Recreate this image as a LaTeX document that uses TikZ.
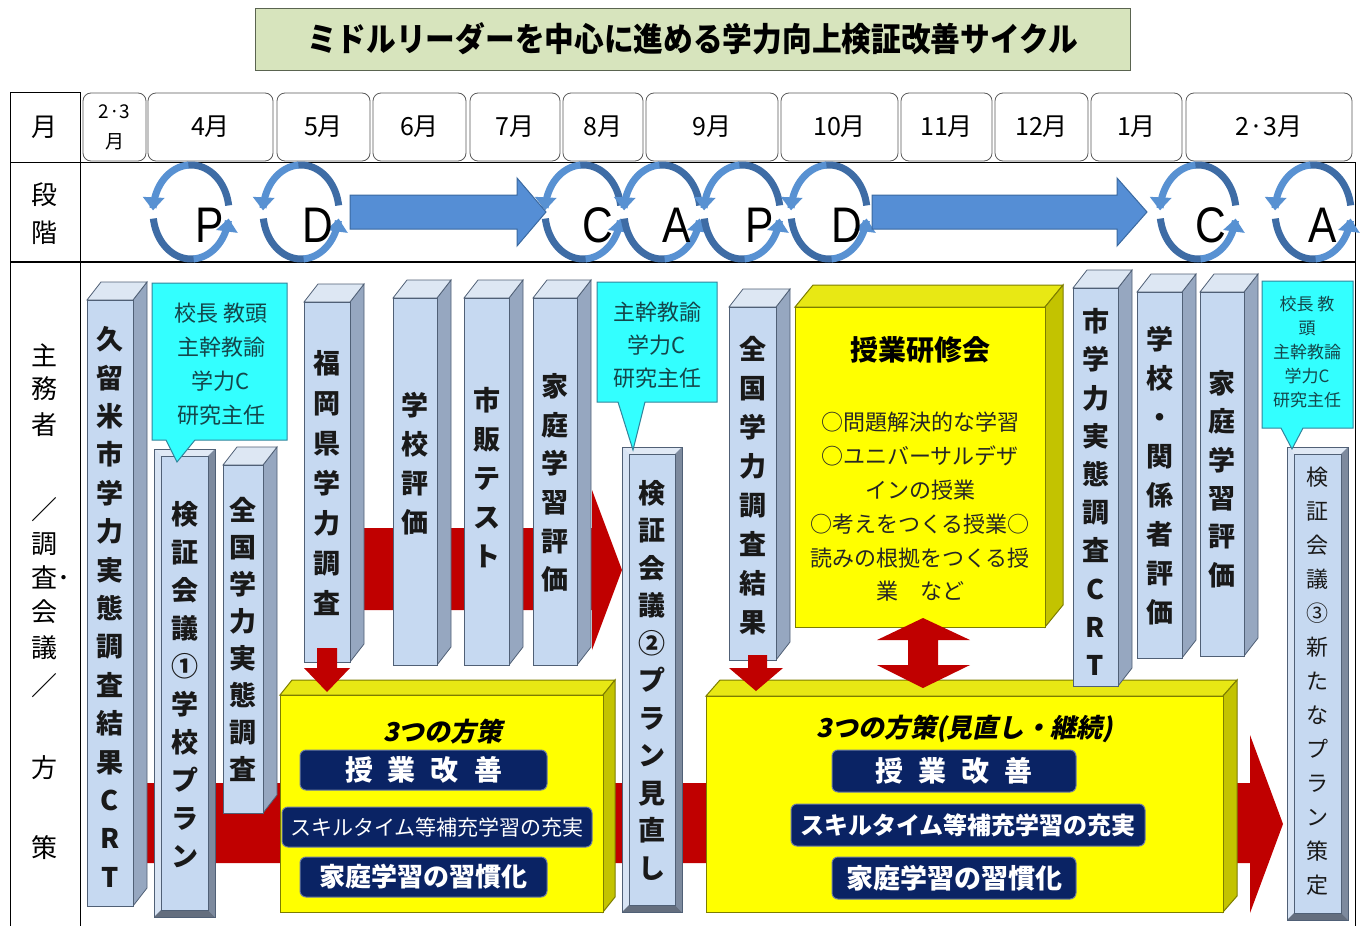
\documentclass[tikz,border=0pt]{standalone}
\usepackage{fontspec}
\setmainfont{Noto Sans CJK JP}
\newfontfamily\latinfont{Liberation Sans}
\newfontfamily\jpslant{Noto Sans CJK JP}[FakeSlant=0.2,BoldFeatures={FakeSlant=0.2}]
\usetikzlibrary{arrows.meta}
\newcommand{\fs}[2]{\fontsize{#1}{#2}\selectfont}
\definecolor{titlegreen}{RGB}{215,228,189}
\definecolor{titleline}{RGB}{90,100,80}
\definecolor{barfront}{RGB}{198,217,241}
\definecolor{bartop}{RGB}{221,231,243}
\definecolor{barside}{RGB}{150,167,192}
\definecolor{barline}{RGB}{80,96,118}
\definecolor{bevdarkc}{RGB}{125,138,158}
\definecolor{bevlightc}{RGB}{224,233,245}
\definecolor{cyanfill}{RGB}{51,255,255}
\definecolor{cyanline}{RGB}{49,133,156}
\definecolor{cyantext}{RGB}{20,70,75}
\definecolor{yfront}{RGB}{255,255,0}
\definecolor{ytop}{RGB}{232,232,20}
\definecolor{yside}{RGB}{195,195,0}
\definecolor{yline}{RGB}{125,125,0}
\definecolor{navy}{RGB}{10,35,100}
\definecolor{redc}{RGB}{192,0,0}
\definecolor{cycd}{RGB}{62,108,165}
\definecolor{cycl}{RGB}{88,145,210}
\definecolor{bigblue}{RGB}{85,142,213}
\definecolor{bigblueline}{RGB}{58,105,160}
\definecolor{monthline}{RGB}{90,90,90}

\newcommand{\pillar}[7]{%
  \filldraw[barsidef] (#4,#3) -- (#4+14,#3-18) -- (#4+14,#5-18) -- (#4,#5) -- cycle;
  \filldraw[bartopf] (#2,#3) -- (#2+14,#3-18) -- (#4+14,#3-18) -- (#4,#3) -- cycle;
  \filldraw[barfrontf] (#2,#3) rectangle (#4,#5);
  \node[vtxt,#1] at ({(#2+#4)/2},#6) {#7};
}
\newcommand{\bevelbar}[7]{%
  \fill[barfront] (#2,#3) rectangle (#4,#5);
  \fill[bevlightc] (#2,#3) -- (#4,#3) -- (#4-7,#3+7) -- (#2+7,#3+7) -- cycle;
  \fill[bevlightc!70!barfront] (#2,#3) -- (#2+7,#3+7) -- (#2+7,#5-7) -- (#2,#5) -- cycle;
  \fill[bevdarkc] (#4,#3) -- (#4,#5) -- (#4-7,#5-7) -- (#4-7,#3+7) -- cycle;
  \fill[bevdarkc!80!black] (#2,#5) -- (#4,#5) -- (#4-7,#5-7) -- (#2+7,#5-7) -- cycle;
  \draw[barline,line width=0.8pt] (#2,#3) rectangle (#4,#5);
  \draw[barline,line width=0.6pt] (#2+7,#3+7) rectangle (#4-7,#5-7);
  \node[vtxt,#1] at ({(#2+#4)/2},#6) {#7};
}
\newcommand{\pdcacyc}[4]{%
  \begin{scope}[shift={(#2,212)}]
    \draw[cycdk] plot[domain=8:96,samples=30] ({38*cos(\x)},{-47*sin(\x)});
    \draw[cyclt,-{Triangle[width=21pt,length=13pt]}] plot[domain=94:178,samples=30] ({38*cos(\x)},{-47*sin(\x)});
    \draw[cycdk] plot[domain=188:276,samples=30] ({38*cos(\x)},{-47*sin(\x)});
    \draw[cyclt,-{Triangle[width=21pt,length=13pt]}] plot[domain=274:352,samples=30] ({38*cos(\x)},{-47*sin(\x)});
  \end{scope}
  \node[pdcaletter] (#1) at (#3,225) {\scalebox{0.85}[1]{#4}};
}

\begin{document}
\begin{tikzpicture}[x=1pt,y=-1pt,
  tline/.style={draw=black,line width=1pt},
  monthbox/.style={draw=monthline,line width=0.8pt,rounded corners=8pt,fill=white,minimum height=68pt,inner sep=0pt,font=\fs{25}{28}},
  sidelabel/.style={inner sep=0pt,font=\fs{26}{30}},
  pdcaletter/.style={inner sep=0pt,font=\latinfont\fs{50}{50}},
  cycdk/.style={draw=cycd,line width=7pt},
  cyclt/.style={draw=cycl,line width=7pt},
  bigarrow/.style={fill=bigblue,draw=bigblueline,line width=1pt},
  redshape/.style={fill=redc},
  barfrontf/.style={fill=barfront,draw=barline,line width=0.8pt},
  bartopf/.style={fill=bartop,draw=barline,line width=0.8pt},
  barsidef/.style={fill=barside,draw=barline,line width=0.8pt},
  vtxt/.style={align=center,inner sep=0pt,text=black!90},
  yfrontf/.style={fill=yfront,draw=yline,line width=1pt},
  ytopf/.style={fill=ytop,draw=yline,line width=1pt},
  ysidef/.style={fill=yside,draw=yline,line width=1pt},
  navybox/.style={fill=navy,draw=navy!60!white,line width=1pt,rounded corners=6pt,text=white,inner sep=0pt},
  callout/.style={fill=cyanfill,draw=cyanline,line width=1pt},
  callouttext/.style={align=center,inner sep=0pt,text=cyantext}
]
\useasboundingbox (0,0) rectangle (1364,926);
\fill[white] (0,0) rectangle (1364,926);

% title
\node[draw=titleline,line width=1pt,fill=titlegreen,minimum width=875pt,minimum height=62pt,inner sep=0pt,font=\bfseries\fs{33}{36}] (title) at (692.5,39) {\scalebox{0.9}[1]{ミドルリーダーを中心に進める学力向上検証改善サイクル}};

% table lines
\draw[tline] (10,92) -- (80,92);
\draw[tline] (10,92) -- (10,926);
\draw[tline] (80,92) -- (80,926);
\draw[tline] (10,162) -- (1355,162);
\draw[tline] (1355,162) -- (1355,926);
\draw[tline,line width=2pt] (10,262) -- (1355,262);

% left labels
\node[sidelabel] (lmonth) at (44,127) {月};
\node[sidelabel] (lphase1) at (44,195) {段};
\node[sidelabel] (lphase2) at (44,233) {階};
\node[sidelabel] (la1) at (44,355) {主};
\node[sidelabel] (la2) at (44,389) {務};
\node[sidelabel] (la3) at (44,425) {者};
\node[sidelabel] (la4) at (44,510) {／};
\node[sidelabel] (la5) at (44,544) {調};
\node[sidelabel,anchor=west] (la6) at (31,577) {査･};
\node[sidelabel] (la7) at (44,612) {会};
\node[sidelabel] (la8) at (44,648) {議};
\node[sidelabel] (la9) at (44,686) {／};
\node[sidelabel] (la10) at (44,768) {方};
\node[sidelabel] (la11) at (44,848) {策};

% months
\node[monthbox,minimum width=63pt,align=center,font=\fs{19}{30}] (m0) at (114.5,127) {2·3\\月};
\node[monthbox,minimum width=125pt] (m1) at (210.5,127) {4月};
\node[monthbox,minimum width=93pt] (m2) at (323.5,127) {5月};
\node[monthbox,minimum width=93pt] (m3) at (419.5,127) {6月};
\node[monthbox,minimum width=90pt] (m4) at (515,127) {7月};
\node[monthbox,minimum width=80pt] (m5) at (603,127) {8月};
\node[monthbox,minimum width=132pt] (m6) at (712,127) {9月};
\node[monthbox,minimum width=117pt] (m7) at (839.5,127) {10月};
\node[monthbox,minimum width=91pt] (m8) at (946.5,127) {11月};
\node[monthbox,minimum width=93pt] (m9) at (1041.5,127) {12月};
\node[monthbox,minimum width=91pt] (m10) at (1136.5,127) {1月};
\node[monthbox,minimum width=166pt] (m11) at (1269,127) {2·3月};

% phase cycles
\pdcacyc{p1}{191}{210}{P}
\pdcacyc{d1}{301}{318}{D}
\pdcacyc{c1}{583}{598}{C}
\pdcacyc{a1}{662}{677}{A}
\pdcacyc{p2}{742}{760}{P}
\pdcacyc{d2}{829}{847}{D}
\pdcacyc{c2}{1198}{1211}{C}
\pdcacyc{a2}{1313}{1323}{A}
\draw[bigarrow] (350,195) -- (517,195) -- (517,178) -- (546,212) -- (517,246) -- (517,229) -- (350,229) -- cycle;
\draw[bigarrow] (872,195) -- (1117,195) -- (1117,178) -- (1147,212) -- (1117,246) -- (1117,229) -- (872,229) -- cycle;

% red bands
\fill[redshape] (350,528) -- (592,528) -- (592,490) -- (622,570) -- (592,650) -- (592,610) -- (350,610) -- cycle;
\fill[redshape] (140,783) -- (1250,783) -- (1250,735) -- (1283,824) -- (1250,913) -- (1250,863) -- (140,863) -- cycle;

% yellow box 1
\filldraw[ytopf] (280,695) -- (292,680) -- (615,680) -- (603,695) -- cycle;
\filldraw[ysidef] (603,695) -- (615,680) -- (615,897) -- (603,912) -- cycle;
\filldraw[yfrontf] (280,695) rectangle (603,912);
\node[inner sep=0pt,font=\jpslant\bfseries\fs{26}{30}] (h1) at (443,732) {3つの方策};
\node[navybox,minimum width=247pt,minimum height=40pt,font=\bfseries\fs{28}{30}] (n11) at (423.5,770) {授\hspace{15pt}業\hspace{15pt}改\hspace{15pt}善};
\node[navybox,minimum width=310pt,minimum height=40pt,font=\fs{21}{24}] (n12) at (437,827) {スキルタイム等補充学習の充実};
\node[navybox,minimum width=247pt,minimum height=40pt,font=\bfseries\fs{26}{30}] (n13) at (423.5,877) {家庭学習の習慣化};

% yellow box 2
\filldraw[ytopf] (706,696) -- (720,680) -- (1237,680) -- (1223,696) -- cycle;
\filldraw[ysidef] (1223,696) -- (1237,680) -- (1237,896) -- (1223,912) -- cycle;
\filldraw[yfrontf] (706,696) rectangle (1223,912);
\node[inner sep=0pt,font=\jpslant\bfseries\fs{26}{30}] (h2) at (965,729) {3つの方策(見直し・継続)};
\node[navybox,minimum width=244pt,minimum height=42pt,font=\bfseries\fs{28}{30}] (n21) at (954,771) {授\hspace{15pt}業\hspace{15pt}改\hspace{15pt}善};
\node[navybox,minimum width=354pt,minimum height=42pt,font=\bfseries\fs{24}{28}] (n22) at (968,825) {スキルタイム等補充学習の充実};
\node[navybox,minimum width=244pt,minimum height=42pt,font=\bfseries\fs{27}{30}] (n23) at (954,878) {家庭学習の習慣化};

% yellow box 3
\filldraw[ytopf] (795,307) -- (813,285) -- (1063,285) -- (1045,307) -- cycle;
\filldraw[ysidef] (1045,307) -- (1063,285) -- (1063,605) -- (1045,627) -- cycle;
\filldraw[yfrontf] (795,307) rectangle (1045,627);
\node[inner sep=0pt,font=\bfseries\fs{28}{30}] (h3) at (920,350) {授業研修会};
\node[inner sep=0pt,align=center,text=black!85,font=\fs{22}{33.8}] (k3) at (920,507) {○問題解決的な学習\\○ユニバーサルデザ\\インの授業\\○考えをつくる授業○\\読みの根拠をつくる授\\業　など};

% pillars
\pillar{name=kurume,font=\bfseries\fs{27}{38.4}}{87}{300}{133}{906}{607}{久\\留\\米\\市\\学\\力\\実\\態\\調\\査\\結\\果\\C\\R\\T}
\bevelbar{name=kensho1,font=\bfseries\fs{27}{38}}{154}{449}{215}{917}{685}{検\\証\\会\\議\\①\\学\\校\\プ\\ラ\\ン}
\pillar{name=zenkoku1,font=\bfseries\fs{27}{37}}{223}{465}{263}{813}{639}{全\\国\\学\\力\\実\\態\\調\\査}
\pillar{name=fukuoka,font=\bfseries\fs{27}{40}}{304}{302}{350}{662}{483}{福\\岡\\県\\学\\力\\調\\査}
\pillar{name=gakkohyoka,font=\bfseries\fs{27}{39}}{393}{298}{437}{665}{464}{学\\校\\評\\価}
\pillar{name=shihan,font=\bfseries\fs{27}{39}}{464}{298}{509}{665}{478}{市\\販\\テ\\ス\\ト}
\pillar{name=katei1,font=\bfseries\fs{27}{38.6}}{533}{298}{577}{665}{483}{家\\庭\\学\\習\\評\\価}
\bevelbar{name=kensho2,font=\bfseries\fs{27}{37.5}}{622}{447}{682}{912}{680}{検\\証\\会\\議\\②\\プ\\ラ\\ン\\見\\直\\し}
\pillar{name=zenkoku2,font=\bfseries\fs{27}{39}}{729}{307}{776}{660}{486}{全\\国\\学\\力\\調\\査\\結\\果}
\pillar{name=shicrt,font=\bfseries\fs{27}{38.2}}{1073}{288}{1118}{686}{492}{市\\学\\力\\実\\態\\調\\査\\C\\R\\T}
\pillar{name=kankeisha,font=\bfseries\fs{27}{39}}{1137}{292}{1182}{658}{476}{学\\校\\・\\関\\係\\者\\評\\価}
\pillar{name=katei2,font=\bfseries\fs{27}{38.4}}{1200}{292}{1244}{656}{479}{家\\庭\\学\\習\\評\\価}
\bevelbar{name=kensho3,font=\fs{22}{34}}{1287}{447}{1348}{920}{681}{検\\証\\会\\議\\③\\新\\た\\な\\プ\\ラ\\ン\\策\\定}

% callouts
\filldraw[callout] (152,283) -- (287,283) -- (287,440) -- (195,440) -- (177,462) -- (166,440) -- (152,440) -- cycle;
\node[callouttext,font=\fs{22}{34}] (co1) at (221,364) {校長 教頭\\主幹教諭\\学力C\\研究主任};
\filldraw[callout] (597,282) -- (717,282) -- (717,402) -- (645,402) -- (633,450) -- (618,402) -- (597,402) -- cycle;
\node[callouttext,font=\fs{22}{33}] (co2) at (657,345) {主幹教諭\\学力C\\研究主任};
\filldraw[callout] (1262,281) -- (1353,281) -- (1353,428) -- (1303,428) -- (1292,449) -- (1281,428) -- (1262,428) -- cycle;
\node[callouttext,font=\fs{17}{23.8}] (co3) at (1307,352) {校長 教\\頭\\主幹教論\\学力C\\研究主任};

% red down arrows
\fill[redshape] (317,648) -- (337,648) -- (337,668) -- (350,668) -- (327,692) -- (304,668) -- (317,668) -- cycle;
\fill[redshape] (748,655) -- (767,655) -- (767,668) -- (783,668) -- (756,691) -- (729,668) -- (748,668) -- cycle;
\fill[redshape] (923,618) -- (970,640) -- (938,640) -- (938,665) -- (970,665) -- (923,688) -- (877,665) -- (908,665) -- (908,640) -- (877,640) -- cycle;
\end{tikzpicture}
\end{document}
